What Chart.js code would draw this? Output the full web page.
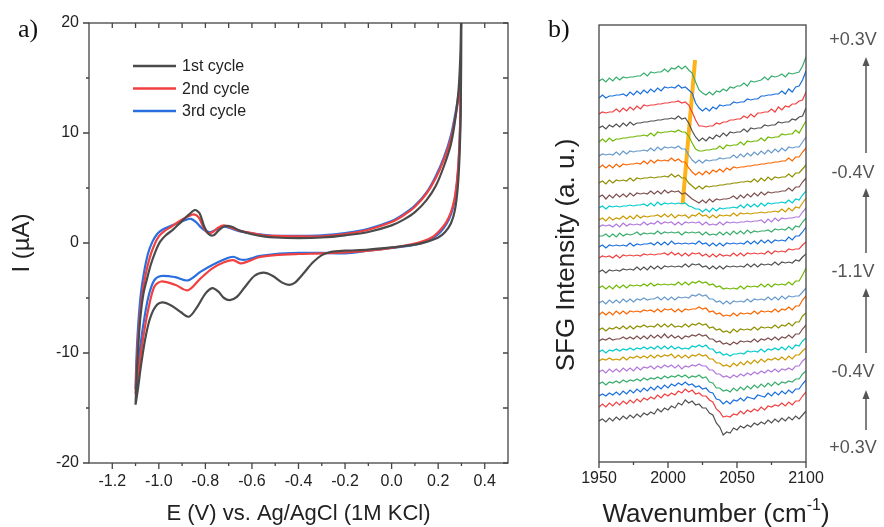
<!DOCTYPE html>
<html>
<head>
<meta charset="utf-8">
<script src="https://cdn.jsdelivr.net/npm/chart.js@4.4.1/dist/chart.umd.min.js"></script>
<style>
  html, body { margin: 0; padding: 0; background: #fff; }
  #wrap { position: relative; width: 884px; height: 527px; }
  #cv { position: absolute; left: 0; top: 0; }
  #sfg { position: absolute; left: 540px; top: 0; }
</style>
</head>
<body>
<div id="wrap">
  <canvas id="cv" width="540" height="527"></canvas>
  <canvas id="sfg" width="344" height="527"></canvas>
</div>
<script>
/* ---------- a) cyclic voltammograms: potential (V) and current (uA) ---------- */
const cycleLabels = ['1st cycle', '2nd cycle', '3rd cycle'];

const cycle1E = [-1.100,-1.094,-1.086,-1.078,-1.066,-1.050,-1.035,-1.015,-0.995,-0.970,
  -0.940,-0.905,-0.870,-0.845,-0.825,-0.805,-0.785,-0.765,-0.745,-0.720,
  -0.690,-0.650,-0.600,-0.550,-0.500,-0.400,-0.300,-0.200,-0.100,0.000,
  0.050,0.100,0.150,0.190,0.225,0.255,0.275,0.288,0.296,0.300,
  0.297,0.292,0.284,0.272,0.255,0.230,0.200,0.150,0.100,0.000,
  -0.100,-0.200,-0.260,-0.300,-0.340,-0.380,-0.415,-0.440,-0.470,-0.510,
  -0.550,-0.590,-0.630,-0.665,-0.695,-0.720,-0.745,-0.770,-0.800,-0.835,
  -0.870,-0.905,-0.945,-0.985,-1.015,-1.040,-1.060,-1.077,-1.090,-1.100];
const cycle1I = [-14.7,-11.5,-8.6,-6.5,-4.6,-3.2,-2.0,-0.8,0.1,0.7,
  1.2,1.9,2.6,3.0,2.7,1.5,0.8,0.7,1.1,1.5,
  1.5,1.1,0.8,0.6,0.5,0.45,0.5,0.7,1.0,1.6,
  2.1,2.8,3.9,5.2,7.0,9.0,11.5,14.0,17.5,22.0,
  12.0,8.0,5.0,3.0,1.8,1.0,0.5,0.1,-0.15,-0.4,
  -0.6,-0.7,-0.8,-1.1,-1.8,-2.8,-3.6,-3.8,-3.6,-3.0,
  -2.7,-3.0,-4.0,-4.9,-5.2,-5.0,-4.4,-4.1,-4.6,-5.8,
  -6.7,-6.3,-5.7,-5.4,-5.8,-7.0,-8.9,-11.2,-13.3,-14.7];

const cycle2E = [-1.100,-1.096,-1.090,-1.082,-1.072,-1.058,-1.040,-1.020,-1.000,-0.975,
  -0.945,-0.910,-0.875,-0.850,-0.828,-0.808,-0.788,-0.768,-0.745,-0.720,
  -0.690,-0.650,-0.600,-0.550,-0.500,-0.400,-0.300,-0.200,-0.100,0.000,
  0.050,0.100,0.150,0.190,0.225,0.255,0.275,0.288,0.296,
  0.294,0.288,0.280,0.270,0.255,0.235,0.210,0.180,0.140,0.090,
  0.000,-0.100,-0.200,-0.300,-0.400,-0.500,-0.570,-0.620,-0.650,-0.680,
  -0.720,-0.770,-0.820,-0.875,-0.930,-0.990,-1.020,-1.045,-1.065,-1.080,
  -1.092,-1.100];
const cycle2I = [-13.7,-11.5,-9.0,-6.8,-4.8,-3.0,-1.4,-0.2,0.6,1.1,
  1.5,2.0,2.4,2.6,2.3,1.4,0.9,1.0,1.4,1.6,
  1.4,1.1,0.9,0.7,0.65,0.6,0.6,0.8,1.2,1.9,
  2.5,3.3,4.5,5.9,7.6,9.5,11.6,13.2,14.0,
  10.5,7.5,5.5,4.0,2.8,1.9,1.2,0.6,0.2,-0.1,
  -0.45,-0.7,-0.85,-0.95,-1.0,-1.1,-1.3,-1.7,-1.85,-1.55,
  -1.75,-2.3,-3.2,-4.3,-3.8,-3.5,-4.0,-6.0,-8.3,-10.5,
  -12.5,-13.7];

const cycle3E = [-1.100,-1.097,-1.092,-1.085,-1.076,-1.063,-1.047,-1.028,-1.008,-0.985,
  -0.955,-0.920,-0.885,-0.862,-0.840,-0.818,-0.798,-0.778,-0.755,-0.728,
  -0.700,-0.660,-0.610,-0.550,-0.500,-0.400,-0.300,-0.200,-0.100,0.000,
  0.050,0.100,0.150,0.190,0.225,0.255,0.275,0.288,0.296,
  0.294,0.288,0.280,0.270,0.255,0.235,0.210,0.180,0.140,0.090,
  0.000,-0.100,-0.200,-0.300,-0.400,-0.500,-0.570,-0.620,-0.650,-0.680,
  -0.720,-0.770,-0.820,-0.875,-0.930,-0.990,-1.020,-1.045,-1.065,-1.080,
  -1.092,-1.100];
const cycle3I = [-13.3,-11.0,-8.6,-6.4,-4.4,-2.6,-1.0,0.1,0.8,1.2,
  1.5,1.8,2.1,2.2,1.9,1.4,1.1,1.0,1.2,1.5,
  1.4,1.1,0.9,0.75,0.65,0.65,0.7,0.9,1.3,2.0,
  2.6,3.4,4.6,6.1,7.8,9.8,11.9,13.6,14.6,
  10.5,7.4,5.3,3.8,2.6,1.7,1.0,0.5,0.1,-0.2,
  -0.45,-0.7,-0.95,-0.9,-0.9,-1.0,-1.2,-1.5,-1.5,-1.25,
  -1.5,-2.0,-2.6,-3.4,-3.1,-3.0,-3.4,-4.9,-7.2,-9.5,
  -11.8,-13.3];

/* axis tick values for panel a */
const cvXMajor = [-1.2,-1.0,-0.8,-0.6,-0.4,-0.2,0.0,0.2,0.4];
const cvXMinor = [-1.1,-0.9,-0.7,-0.5,-0.3,-0.1,0.1,0.3];
const cvYMajor = [-20,-10,0,10,20];
const cvYMinor = [-15,-5,5,15];

/* ---------- b) stacked SFG spectra ---------- */
const wavenumbers = [1950,1952.5,1955,1957.5,1960,1962.5,1965,1967.5,1970,1972.5,
  1975,1977.5,1980,1982.5,1985,1987.5,1990,1992.5,1995,1997.5,
  2000,2002.5,2005,2007.5,2010,2012.5,2015,2017.5,2020,2022.5,
  2025,2027.5,2030,2032.5,2035,2037.5,2040,2042.5,2045,2047.5,
  2050,2052.5,2055,2057.5,2060,2062.5,2065,2067.5,2070,2072.5,
  2075,2077.5,2080,2082.5,2085,2087.5,2090,2092.5,2095,2097.5,2100];

/* stacking offset of each spectrum, bottom (+0.3 V start) to top */
const offsets = [41,55,66,78,90,101,110,121,132,147,159,174,190,204,
  215,226,235,242,254,265,279,294,306,320,334,348,364,381];

/* spectrum shapes, bottom to top (intensity relative to the trace's offset) */
const s01 = [0,2,-1,3,0,4,1,5,2,6,3,7,4,8,6,9,7,12,9,13,11,15,13,18,16,21,18,20,16,17,13,13,8,6,-2,-6,-14,-11,-12,-7,-9,-5,-7,-4,-6,-2,-4,-1,-3,1,-2,2,-1,3,0,4,1,5,2,6,10];
const s02 = [0,3,0,4,1,5,2,6,3,7,4,8,5,9,7,10,8,12,9,13,11,14,12,16,14,18,15,17,13,14,11,11,7,5,-2,-5,-10,-9,-10,-7,-8,-4,-7,-3,-5,-2,-4,0,-3,1,0,2,1,4,1,5,2,6,6,11,15];
const s03 = [0,2,0,3,1,4,1,5,2,6,3,7,4,8,5,9,6,10,7,11,8,12,10,13,11,14,11,12,9,10,7,8,4,3,-3,-4,-8,-5,-8,-4,-5,-2,-5,-1,-2,-3,1,0,-1,3,0,4,1,5,2,6,3,7,7,12,16];
const s04 = [0,2,-1,2,1,3,1,4,2,4,3,5,3,6,4,6,5,7,5,8,6,8,7,9,7,9,6,8,7,9,6,7,2,1,-4,-4,-7,-6,-8,-4,-7,-3,-6,-2,-5,-1,-4,0,-3,1,-2,2,-1,2,1,3,2,5,5,10,13];
const s05 = [0,2,-1,3,0,3,0,4,1,4,1,5,2,5,4,6,3,6,4,7,5,7,4,7,3,6,5,7,6,8,6,6,2,2,-2,-2,-5,-4,-6,-3,-5,-2,-4,-1,-3,0,-2,1,-1,2,0,3,0,3,2,4,2,6,6,11,14];
const s06 = [0,2,1,3,1,2,1,4,1,4,3,5,3,5,3,6,3,6,4,6,5,7,3,6,3,6,3,6,5,7,5,6,2,2,-2,-2,-5,-4,-6,-2,-5,-1,-4,0,-3,1,-2,2,-1,2,1,3,1,4,1,5,2,6,6,10,13];
const s07 = [0,2,-1,2,1,3,1,3,2,4,2,4,3,5,3,5,3,6,3,6,3,6,3,5,3,4,3,6,5,7,5,7,3,3,-1,0,-3,-2,-4,-2,-2,-1,-2,1,0,1,0,3,0,3,2,4,2,5,2,6,3,7,6,11,14];
const s08 = [0,2,1,3,1,2,2,4,2,4,2,5,2,5,2,6,3,6,3,7,3,6,3,5,2,5,4,6,5,7,5,6,2,2,-1,0,-3,-2,-4,-1,-3,0,-1,0,-1,2,-1,2,1,3,1,4,1,4,3,6,3,7,7,12,16];
const s09 = [0,2,-1,2,1,3,1,4,1,4,1,4,3,5,3,4,3,6,3,6,3,6,3,4,3,6,3,6,5,7,5,6,2,3,0,1,-2,-1,-3,1,-2,1,0,1,0,3,0,3,2,3,2,5,2,5,4,7,4,8,8,14,17];
const s10 = [0,3,0,3,0,4,1,4,1,4,3,4,3,5,4,5,3,6,3,6,5,6,3,6,3,6,5,6,6,8,6,7,3,4,1,2,-1,0,-1,2,-1,2,1,2,1,4,1,4,3,4,3,6,3,6,5,8,5,9,9,15,19];
const s11 = [0,2,-1,3,0,3,0,4,1,4,1,4,3,5,3,4,4,6,3,6,3,6,3,6,5,6,5,8,7,9,7,8,4,4,1,2,-1,2,-1,2,1,2,1,4,1,4,3,4,3,6,3,6,3,7,4,7,6,7,7,11,15];
const s12 = [0,2,-1,2,-1,3,0,3,0,3,2,3,2,4,2,5,2,4,3,4,3,4,3,6,3,6,3,6,5,7,5,6,3,4,1,2,-1,0,-1,0,-1,2,-1,2,1,2,1,4,1,4,1,4,3,4,3,6,3,7,7,13,20];
const s13 = [0,2,-1,2,1,2,1,3,2,3,2,5,2,5,2,6,3,6,3,6,5,6,5,6,5,8,5,8,7,8,5,6,3,6,3,6,3,6,5,6,5,6,5,8,5,8,5,8,7,8,7,10,7,10,9,10,9,12,11,15,18];
const s14 = [0,2,1,2,0,3,0,3,2,3,2,3,2,4,3,4,3,4,4,5,3,6,3,5,2,5,2,5,4,5,2,4,1,4,1,4,2,3,2,5,2,5,2,5,4,5,4,5,4,7,4,7,6,7,6,9,8,9,9,13,16];
const s15 = [0,2,-1,2,1,2,1,2,1,4,1,3,2,3,3,4,2,5,2,5,2,6,3,4,3,4,3,4,3,6,3,4,1,4,1,4,1,4,3,4,3,4,3,6,3,6,3,7,4,7,4,7,6,7,6,10,7,11,11,15,20];
const s16 = [0,0,2,-1,2,-1,3,0,2,1,2,4,1,3,2,3,2,5,2,4,3,4,3,4,1,4,3,4,3,4,1,4,1,2,1,4,1,4,1,5,2,5,2,6,3,5,4,5,5,6,4,7,6,7,6,9,6,10,9,14,18];
const s17 = [0,2,1,2,0,3,0,4,1,3,2,3,2,5,2,4,3,6,3,5,4,5,2,5,2,5,4,5,4,5,2,5,2,3,2,5,2,5,4,5,4,5,5,6,5,6,6,7,4,8,5,9,6,9,8,9,9,10,10,15,19];
const s18 = [0,2,-1,3,0,2,1,4,1,4,1,5,2,4,3,4,4,5,3,6,3,6,2,5,4,5,2,5,4,7,4,5,2,5,2,5,4,5,4,7,4,7,6,7,6,7,7,8,7,8,8,9,8,11,8,12,9,13,12,17,22];
const s19 = [0,2,-1,2,1,2,1,2,2,3,2,3,3,4,2,5,2,6,3,5,4,5,4,5,4,5,2,1,-1,-1,-4,-1,-4,0,-3,0,-1,0,0,1,0,3,0,4,1,4,1,5,2,5,4,5,5,6,5,8,5,9,8,13,17];
const s20 = [0,2,-2,2,-1,3,0,3,0,4,1,4,3,4,3,6,3,6,3,7,4,6,5,6,3,4,1,-2,-4,-6,-3,-6,-2,-5,-2,-3,-2,-2,-1,1,-2,2,-1,3,0,4,1,5,2,5,4,5,5,6,6,9,6,10,10,15,19];
const s21 = [0,2,-1,3,0,3,2,3,2,5,2,5,4,5,5,6,5,6,6,7,6,9,6,8,5,5,0,-3,-6,-3,-6,-3,-4,-3,-3,-2,-2,-1,-1,0,0,1,1,2,1,4,1,5,2,6,3,6,5,6,6,9,6,10,10,14,18];
const s22 = [0,3,0,3,0,4,1,4,3,4,4,5,4,7,4,8,5,8,7,8,7,10,7,9,6,6,0,-4,-7,-4,-7,-3,-6,-2,-4,-1,-4,0,-2,1,0,1,1,2,2,3,3,4,4,5,5,6,6,7,7,10,7,11,11,16,20];
const s23 = [0,2,1,2,1,4,1,5,2,5,4,5,5,6,5,8,5,9,6,9,8,9,8,10,7,7,1,-4,-7,-4,-7,-4,-5,-4,-4,-2,-3,-2,-2,1,-2,2,-1,3,0,4,1,5,2,6,3,7,4,8,5,9,8,9,9,14,19];
const s24 = [0,3,0,4,1,3,3,4,4,5,5,6,6,7,6,9,6,10,9,10,10,11,10,12,10,10,6,-1,-7,-9,-9,-8,-8,-7,-7,-4,-7,-3,-4,-3,-3,0,-3,1,0,1,1,4,1,5,4,5,5,8,7,8,8,12,9,15,21];
const s25 = [0,2,-1,3,1,4,1,5,2,6,3,5,5,6,6,7,7,8,8,9,9,10,9,12,9,10,5,-3,-9,-13,-10,-13,-9,-11,-7,-9,-5,-8,-4,-5,-4,-4,-1,-4,0,-1,0,0,3,2,3,3,6,5,6,6,9,8,11,12,20];
const s26 = [0,2,1,2,2,5,2,6,3,7,4,8,5,9,8,9,9,10,10,11,11,12,12,13,11,12,9,2,-6,-12,-12,-13,-12,-12,-9,-10,-8,-8,-6,-6,-5,-5,-2,-4,0,-3,1,1,2,2,5,2,7,4,8,7,10,10,13,14,22];
const s27 = [0,3,0,2,2,3,3,4,2,6,3,7,4,8,5,9,6,10,7,11,10,11,10,13,10,11,8,5,-5,-10,-13,-10,-13,-9,-11,-7,-8,-7,-7,-4,-5,-4,-4,-1,-2,-1,-1,2,2,3,3,4,4,7,4,9,6,11,12,18,27];
const s28 = [0,2,-1,3,0,4,1,4,3,4,4,5,5,8,5,9,8,9,9,12,9,13,12,15,12,15,11,8,-1,-9,-12,-14,-11,-14,-10,-11,-8,-10,-6,-7,-5,-5,-2,-5,0,-1,0,1,4,1,5,4,5,7,4,8,7,8,9,15,24];

const spectra = [s01,s02,s03,s04,s05,s06,s07,s08,s09,s10,s11,s12,s13,s14,
  s15,s16,s17,s18,s19,s20,s21,s22,s23,s24,s25,s26,s27,s28];

/* guide line across the upper spectra */
const guideWn = [2019.6, 2010.6];
const guideLevel = [402, 258];

/* potential sequence, top to bottom */
const potentialLabels = ['+0.3V', '-0.4V', '-1.1V', '-0.4V', '+0.3V'];

const sfgMajor = [1950, 2000, 2050, 2100];
const sfgMinor = [1975, 2025, 2075];

/* ---------- styling ---------- */
const FONT = "'Liberation Sans', Arial, Helvetica, sans-serif";
const SERIF = "'Liberation Serif', 'Times New Roman', serif";
const AXIS = '#444';
const TEXT = '#222';
const cycleColors = ['#4a4a4a', '#f04040', '#2a6fe0'];
const traceColors = ['#515151','#F14040','#1A6FDF','#37AD6B','#B177DE','#CC9900',
  '#00CBCC','#7D4E4E','#8E8E00','#FB6501','#6699CC','#6FB802'];

/* positions (in y-scale units) of the potential labels and arrows in panel b */
const labelLevels = [422, 289, 190, 90, 14];
const arrowTails = [309, 209, 109, 32];
const arrowTips = [405, 274, 174, 72];

Chart.defaults.font.family = FONT;
Chart.defaults.color = TEXT;

const toPoints = (xs, ys) => xs.map((x, i) => ({x: x, y: ys[i]}));

/* box frame with Origin-style ticks */
const boxTicks = {
  id: 'boxTicks',
  afterDraw(chart, args, o) {
    const {ctx, chartArea: a} = chart;
    const sx = chart.scales.x, sy = chart.scales.y;
    ctx.save();
    ctx.strokeStyle = AXIS;
    ctx.lineWidth = 1.3;
    ctx.strokeRect(a.left, a.top, a.right - a.left, a.bottom - a.top);
    ctx.beginPath();
    const xt = (v, len) => {
      const p = sx.getPixelForValue(v);
      ctx.moveTo(p, a.bottom); ctx.lineTo(p, a.bottom + len);
      if (o.mirror) { ctx.moveTo(p, a.top); ctx.lineTo(p, a.top + 5); }
    };
    const yt = (v, len) => {
      const p = sy.getPixelForValue(v);
      ctx.moveTo(a.left, p); ctx.lineTo(a.left - len, p);
      if (o.mirror) { ctx.moveTo(a.right, p); ctx.lineTo(a.right - 5, p); }
    };
    (o.xMajor || []).forEach(v => xt(v, 6));
    (o.xMinor || []).forEach(v => xt(v, 3));
    (o.yMajor || []).forEach(v => yt(v, 6));
    (o.yMinor || []).forEach(v => yt(v, 3));
    ctx.stroke();
    ctx.fillStyle = '#111';
    ctx.font = '26px ' + SERIF;
    ctx.textAlign = 'left';
    ctx.textBaseline = 'alphabetic';
    ctx.fillText(o.panel, o.panelX, 37);
    ctx.restore();
  }
};

/* legend drawn inside the plot area of panel a */
const cvLegend = {
  id: 'cvLegend',
  afterDatasetsDraw(chart) {
    const ctx = chart.ctx;
    ctx.save();
    ctx.font = '16px ' + FONT;
    ctx.textBaseline = 'middle';
    chart.data.datasets.forEach((ds, i) => {
      const y = 66 + i * 22.5;
      ctx.strokeStyle = ds.borderColor;
      ctx.lineWidth = 2.5;
      ctx.beginPath(); ctx.moveTo(133, y); ctx.lineTo(176, y); ctx.stroke();
      ctx.fillStyle = TEXT;
      ctx.fillText(ds.label, 182, y + 1);
    });
    ctx.restore();
  }
};

/* titles, potential labels and arrows of panel b */
const sfgDecor = {
  id: 'sfgDecor',
  afterDraw(chart) {
    const {ctx, scales: {y}} = chart;
    ctx.save();
    ctx.fillStyle = TEXT;
    // y title
    ctx.font = '26px ' + FONT;
    ctx.textAlign = 'center';
    ctx.textBaseline = 'middle';
    ctx.translate(27, 255);
    ctx.rotate(-Math.PI / 2);
    ctx.fillText('SFG Intensity (a. u.)', 0, 0);
    ctx.setTransform(1, 0, 0, 1, 0, 0);
    // x title with superscript
    const main = 'Wavenumber (cm', sup = '-1', tail = ')';
    ctx.font = '26px ' + FONT;
    const w1 = ctx.measureText(main).width, w3 = ctx.measureText(tail).width;
    ctx.font = '16px ' + FONT;
    const w2 = ctx.measureText(sup).width;
    let px = 176 - (w1 + w2 + w3) / 2;
    ctx.textAlign = 'left';
    ctx.textBaseline = 'alphabetic';
    ctx.font = '26px ' + FONT;
    ctx.fillText(main, px, 522); px += w1;
    ctx.font = '16px ' + FONT;
    ctx.fillText(sup, px, 510); px += w2;
    ctx.font = '26px ' + FONT;
    ctx.fillText(tail, px, 522);
    // potentials
    ctx.fillStyle = '#555';
    ctx.font = '18px ' + FONT;
    ctx.textAlign = 'center';
    ctx.textBaseline = 'middle';
    potentialLabels.forEach((t, i) => ctx.fillText(t, 313, y.getPixelForValue(labelLevels[i])));
    ctx.strokeStyle = '#555';
    ctx.lineWidth = 1.5;
    arrowTails.forEach((t, i) => {
      const y0 = y.getPixelForValue(t), y1 = y.getPixelForValue(arrowTips[i]);
      ctx.beginPath(); ctx.moveTo(326, y0); ctx.lineTo(326, y1 + 7); ctx.stroke();
      ctx.beginPath(); ctx.moveTo(326, y1); ctx.lineTo(322.5, y1 + 9); ctx.lineTo(329.5, y1 + 9);
      ctx.closePath(); ctx.fill();
    });
    ctx.restore();
  }
};

/* ---------- panel a ---------- */
const cycles = [[cycle1E, cycle1I], [cycle2E, cycle2I], [cycle3E, cycle3I]];
new Chart(document.getElementById('cv'), {
  type: 'scatter',
  data: {
    datasets: cycles.map((c, i) => ({
      label: cycleLabels[i],
      data: toPoints(c[0], c[1]),
      showLine: true,
      borderColor: cycleColors[i],
      borderWidth: 2.2,
      pointRadius: 0,
      tension: 0.3
    }))
  },
  options: {
    responsive: false,
    animation: false,
    layout: {padding: {top: 23, right: 32, bottom: 0, left: 0}},
    plugins: {
      legend: {display: false},
      tooltip: {enabled: false},
      boxTicks: {xMajor: cvXMajor, xMinor: cvXMinor, yMajor: cvYMajor, yMinor: cvYMinor,
        mirror: true, panel: 'a)', panelX: 18}
    },
    scales: {
      x: {
        type: 'linear', min: -1.3, max: 0.5,
        afterFit: s => { s.height = 64; },
        afterBuildTicks: s => { s.ticks = cvXMajor.map(v => ({value: v})); },
        grid: {display: false, drawTicks: false},
        border: {display: false},
        ticks: {padding: 9, font: {size: 16}, color: TEXT,
          callback: v => (Math.abs(v) < 1e-9 ? 0 : v).toFixed(1)},
        title: {display: true, text: 'E (V) vs. Ag/AgCl (1M KCl)', font: {size: 22}, color: TEXT,
          padding: {top: 0, bottom: 0}}
      },
      y: {
        min: -20, max: 20,
        afterFit: s => { s.width = 89; },
        afterBuildTicks: s => { s.ticks = cvYMajor.map(v => ({value: v})); },
        grid: {display: false, drawTicks: false},
        border: {display: false},
        ticks: {padding: 10, font: {size: 16}, color: TEXT},
        title: {display: true, text: 'I (\u00B5A)', font: {size: 24}, color: TEXT,
          padding: {top: 8, bottom: 0}}
      }
    }
  },
  plugins: [boxTicks, cvLegend]
});

/* ---------- panel b ---------- */
const sfgSets = spectra.map((shape, k) => ({
  data: wavenumbers.map((w, i) => ({x: w, y: offsets[k] + shape[i]})),
  showLine: true,
  borderColor: traceColors[k % traceColors.length],
  borderWidth: 1.2,
  pointRadius: 0,
  tension: 0
}));
sfgSets.push({
  data: toPoints(guideWn, guideLevel),
  showLine: true,
  borderColor: '#FFB31A',
  borderWidth: 4,
  pointRadius: 0
});

new Chart(document.getElementById('sfg'), {
  type: 'scatter',
  data: {datasets: sfgSets},
  options: {
    responsive: false,
    animation: false,
    layout: {padding: {top: 25, right: 78, bottom: 0, left: 59}},
    plugins: {
      legend: {display: false},
      tooltip: {enabled: false},
      boxTicks: {xMajor: sfgMajor, xMinor: sfgMinor, mirror: false, panel: 'b)', panelX: 8}
    },
    scales: {
      x: {
        type: 'linear', min: 1950, max: 2100,
        afterFit: s => { s.height = 65; },
        afterBuildTicks: s => { s.ticks = sfgMajor.map(v => ({value: v})); },
        grid: {display: false, drawTicks: false},
        border: {display: false},
        ticks: {padding: 7, font: {size: 16}, color: TEXT, callback: v => String(v)}
      },
      y: {display: false, min: 0, max: 437}
    }
  },
  plugins: [boxTicks, sfgDecor]
});
</script>
</body>
</html>
